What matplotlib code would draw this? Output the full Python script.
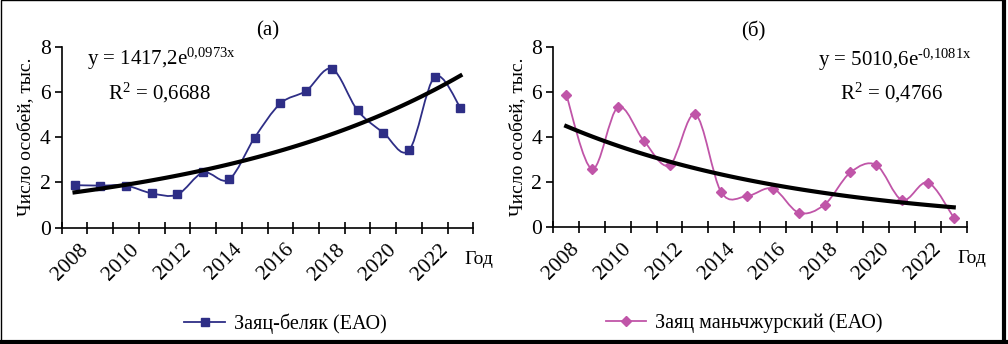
import matplotlib
matplotlib.use("Agg")
import matplotlib.pyplot as plt
import numpy as np
from matplotlib.path import Path
from matplotlib.patches import PathPatch, Rectangle
from matplotlib.lines import Line2D

plt.rcParams['font.family'] = ['Liberation Serif', 'DejaVu Serif']
plt.rcParams['mathtext.fontset'] = 'custom'
plt.rcParams['mathtext.rm'] = 'Liberation Serif'
plt.rcParams['mathtext.it'] = 'Liberation Serif:italic'

years = list(range(2008, 2024))
hare_white = [1.88, 1.86, 1.86, 1.52, 1.47, 2.44, 2.13, 3.98, 5.49, 6.05, 7.02, 5.18, 4.2, 3.42, 6.67, 5.3]
hare_manchu = [5.9, 2.59, 5.33, 3.85, 2.76, 5.02, 1.56, 1.39, 1.72, 0.65, 1.01, 2.44, 2.77, 1.21, 1.99, 0.43]

# exponential trend coefficients (thousands), x = 1..16
trend_a = (1.4172, 0.0973)
trend_b = (5.0106, -0.1081)

eq_a = ("y = 1417,2e$^{\\mathrm{0{,}0973x}}$", "R$^{\\mathrm{2}}$ = 0,6688")
eq_b = ("y = 5010,6e$^{\\mathrm{\u2010 0{,}1081x}}$", "R$^{\\mathrm{2}}$ = 0,4766")

BLUE = "#2E2E86"
PINK = "#C055A8"


def smooth_path(x, y):
    # catmull-rom style bezier, like excel's smoothed line
    x = np.asarray(x, float)
    y = np.asarray(y, float)
    px = np.concatenate([[x[0]], x, [x[-1]]])
    py = np.concatenate([[y[0]], y, [y[-1]]])
    verts = [(x[0], y[0])]
    codes = [Path.MOVETO]
    for i in range(1, len(px) - 2):
        c1 = (px[i] + (px[i + 1] - px[i - 1]) / 6, py[i] + (py[i + 1] - py[i - 1]) / 6)
        c2 = (px[i + 1] - (px[i + 2] - px[i]) / 6, py[i + 1] - (py[i + 2] - py[i]) / 6)
        verts += [c1, c2, (px[i + 1], py[i + 1])]
        codes += [Path.CURVE4] * 3
    return Path(verts, codes)


def draw_panel(ax, values, color, marker, msize, trend, eq, eq_x, title, title_x):
    xs = np.arange(1, len(values) + 1)
    ax.add_patch(PathPatch(smooth_path(xs, values), facecolor='none',
                           edgecolor=color, lw=1.3, zorder=2))
    ax.plot(xs, values, ls='none', marker=marker, ms=msize, color=color, zorder=3)
    a, b = trend
    tx = np.linspace(1, len(values), 60)
    ax.plot(tx, a * np.exp(b * tx), color='black', lw=3, zorder=4)

    ax.set_xlim(0.5, len(values) + 0.5)
    ax.set_ylim(0, 8)
    ax.set_yticks([0, 2, 4, 6, 8])
    ax.set_xticks(np.arange(0.5, len(values) + 1))
    ax.set_xticklabels([])
    for s in ['top', 'right']:
        ax.spines[s].set_visible(False)
    for s in ['left', 'bottom']:
        ax.spines[s].set_linewidth(1.2)
    ax.tick_params(axis='y', direction='out', length=5, width=1.2, labelsize=15.5, pad=3)
    ax.tick_params(axis='x', direction='inout', length=9, width=1.2)
    for i in range(0, len(values), 2):
        ax.text(xs[i] + 0.15, -0.55, str(years[i]), rotation=45, ha='right', va='top',
                rotation_mode='anchor', fontsize=15.5)
    ax.text(len(values) + 0.15, -1.4, "Год", fontsize=14, ha='left', va='center')
    ax.set_ylabel("Число особей, тыс.", fontsize=14, labelpad=4)
    ax.set_title(title, fontsize=15, pad=8, x=title_x)
    ax.text(eq_x[0], 7.45, eq[0], fontsize=15, ha='left', va='center')
    ax.text(eq_x[1], 5.95, eq[1], fontsize=15, ha='left', va='center')


fig = plt.figure(figsize=(10.08, 3.44), dpi=100)
ax1 = fig.add_axes([0.0612, 0.3381, 0.4084, 0.5262])
ax2 = fig.add_axes([0.5489, 0.3392, 0.4101, 0.5233])

draw_panel(ax1, hare_white, BLUE, 's', 5.2, trend_a, eq_a, (1.5, 2.3), "(а)", 0.5)
draw_panel(ax2, hare_manchu, PINK, 'D', 5.5, trend_b, eq_b, (10.75, 11.6), "(б)", 0.483)

h1 = Line2D([], [], color=BLUE, lw=1.3, marker='s', ms=5.2)
h2 = Line2D([], [], color=PINK, lw=1.3, marker='D', ms=5.5)
leg_kw = dict(frameon=False, fontsize=14.5, handlelength=2.0, handletextpad=0.45, loc='center left')
fig.legend([h1], ["Заяц-беляк (ЕАО)"], bbox_to_anchor=(0.165, 0.06), **leg_kw)
fig.legend([h2], ["Заяц маньчжурский (ЕАО)"], bbox_to_anchor=(0.583, 0.06), **leg_kw)

# frame with shadow on right/bottom
fig.add_artist(Rectangle((0.0005, 0.004), 0.996, 0.995, transform=fig.transFigure,
                         fill=False, edgecolor='black', lw=1))
fig.add_artist(Line2D([0.9965, 0.9965], [0.004, 1.0], transform=fig.transFigure, color='black', lw=3))
fig.add_artist(Line2D([0.0, 0.998], [0.0045, 0.0045], transform=fig.transFigure, color='black', lw=3))

fig.savefig("out.png", dpi=100)
